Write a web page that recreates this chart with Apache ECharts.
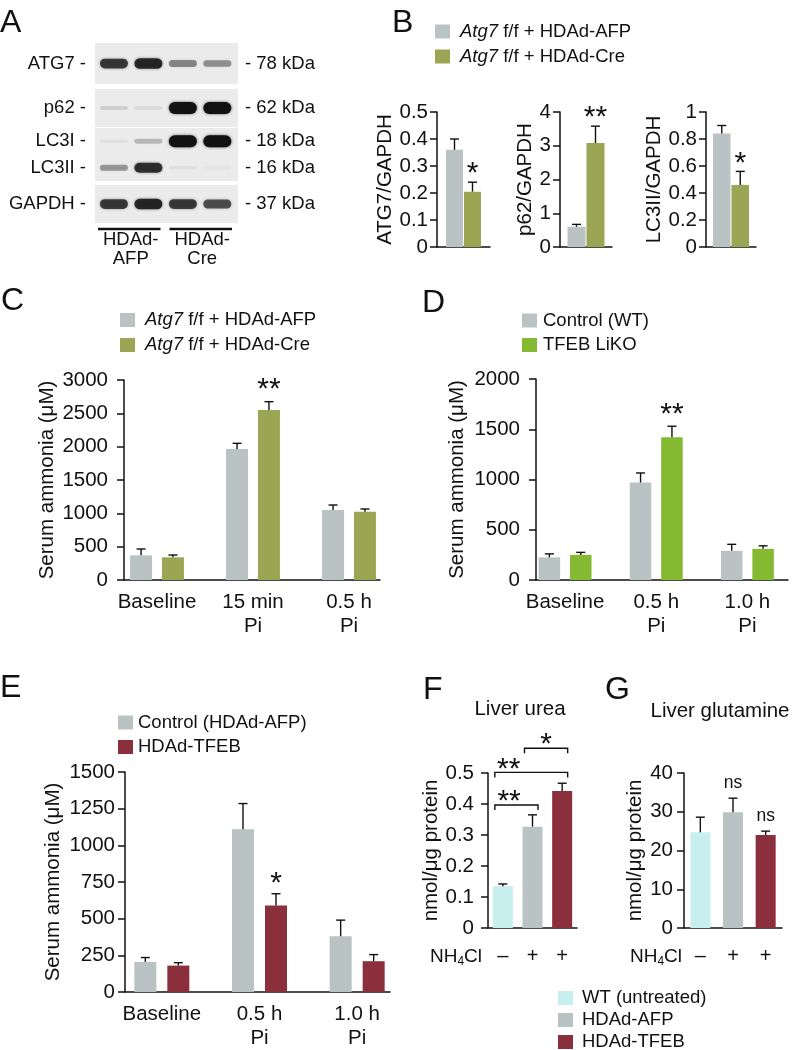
<!DOCTYPE html>
<html><head><meta charset="utf-8">
<script src="https://cdn.jsdelivr.net/npm/echarts@6/dist/echarts.min.js"></script>
<style>html,body{margin:0;padding:0;background:#fff}#c{width:793px;height:1050px}</style>
</head><body><div id="c"></div>
<script>
// ================= DATA =================
// Panel A (western blot band intensities, lanes 1-4)
const blotLeftLabels  = ['ATG7', 'p62', 'LC3I', 'LC3II', 'GAPDH'];
const blotRightLabels = ['78 kDa', '62 kDa', '18 kDa', '16 kDa', '37 kDa'];
const blotGroups = ['HDAd-\nAFP', 'HDAd-\nCre'];
const bandATG7  = [0.75, 0.85, 0.42, 0.38];
const bandP62   = [0.12, 0.08, 1.0, 1.0];
const bandLC3I  = [0.05, 0.22, 1.0, 1.0];
const bandLC3II = [0.35, 0.8, 0.05, 0.03];
const bandGAPDH = [0.75, 0.85, 0.75, 0.65];

// Panel B
const atgNames = ['Atg7 f/f + HDAd-AFP', 'Atg7 f/f + HDAd-Cre'];
const bAtg7Vals = [0.36, 0.205], bAtg7Err = [0.04, 0.035], bAtg7Sig = ['', '*'];
const bP62Vals  = [0.6, 3.08],   bP62Err  = [0.07, 0.5],   bP62Sig  = ['', '**'];
const bLc3Vals  = [0.84, 0.46],  bLc3Err  = [0.06, 0.10],  bLc3Sig  = ['', '*'];

// Panel C
const cCats = ['Baseline', '15 min\nPi', '0.5 h\nPi'];
const cAFP = [370, 1965, 1050], cAFPErr = [95, 85, 75];
const cCre = [340, 2550, 1025], cCreErr = [35, 125, 40], cCreSig = ['', '**', ''];

// Panel D
const dNames = ['Control (WT)', 'TFEB LiKO'];
const dCats = ['Baseline', '0.5 h\nPi', '1.0 h\nPi'];
const dWT = [225, 970, 290], dWTErr = [35, 95, 65];
const dKO = [250, 1420, 310], dKOErr = [25, 110, 30], dKOSig = ['', '**', ''];

// Panel E
const eNames = ['Control (HDAd-AFP)', 'HDAd-TFEB'];
const eCats = ['Baseline', '0.5 h\nPi', '1.0 h\nPi'];
const eAFP = [205, 1110, 380], eAFPErr = [30, 175, 110];
const eTFEB = [180, 590, 210], eTFEBErr = [20, 80, 45], eTFEBSig = ['', '*', ''];

// Panels F, G
const fgNames = ['WT (untreated)', 'HDAd-AFP', 'HDAd-TFEB'];
const nh4clSigns = ['\u2013', '+', '+'];
const urea = [0.135, 0.327, 0.442], ureaErr = [0.007, 0.038, 0.025];
const ureaPairs = [[0, 1], [0, 2], [1, 2]], ureaPairY = [0.397, 0.502, 0.58], ureaPairSig = ['**', '**', '*'];
const glut = [24.7, 29.9, 24.0], glutErr = [3.9, 3.6, 1.0], glutSig = ['', 'ns', 'ns'];

// ================= STYLE =================
const FF = "'Liberation Sans', Arial, Helvetica, sans-serif";
const TXT = '#111';
const FS = 18.5;   // legends, blot labels
const AF = 20.5;   // axis labels, axis names, subtitles
const GRAY = '#b9c3c3', OLIVE = '#9aa653', LIME = '#86b932', RED = '#8b2f3d', CYAN = '#c6efee';
const AX = {color: '#111', width: 1.5};
const SIGF = 30;

const grids = [], xAxes = [], yAxes = [], series = [], titles = [], legends = [], graphics = [];
const grid = o => (grids.push(Object.assign({show: false, containLabel: false}, o)), grids.length - 1);
const xa = o => (xAxes.push(o), xAxes.length - 1);
const ya = o => (yAxes.push(o), yAxes.length - 1);
const fmtNum = v => String(+(+v).toFixed(6));

function valueY(gi, max, interval, name, nameGap, margin) {
  return ya({gridIndex: gi, type: 'value', min: 0, max, interval, name, nameLocation: 'middle', nameGap,
    nameTextStyle: {fontSize: AF, color: TXT, fontFamily: FF},
    axisLine: {show: true, onZero: false, lineStyle: AX},
    axisTick: {show: true, length: 7, lineStyle: AX},
    axisLabel: {fontSize: AF, color: TXT, fontFamily: FF, margin, formatter: fmtNum},
    splitLine: {show: false}});
}

function errSeries(xi, yi, vals, errs, sigs, offset, sigFont, sigD) {
  series.push({type: 'custom', xAxisIndex: xi, yAxisIndex: yi, silent: true, z: 5,
    data: vals.map((v, i) => [i, v, errs[i]]),
    renderItem: (params, api) => {
      const i = params.dataIndex;
      const v = api.value(1), e = api.value(2);
      const p0 = api.coord([api.value(0), v]);
      const p1 = api.coord([api.value(0), v + e]);
      const x = p0[0] + offset;
      const ch = [
        {type: 'line', shape: {x1: x, y1: p0[1], x2: x, y2: p1[1]}, style: {stroke: '#111', lineWidth: 1.4}},
        {type: 'line', shape: {x1: x - 4.5, y1: p1[1], x2: x + 4.5, y2: p1[1]}, style: {stroke: '#111', lineWidth: 1.4}}
      ];
      const s = sigs ? sigs[i] : '';
      if (s) ch.push({type: 'text', x: x, y: p1[1] - sigD,
        style: {text: s, font: sigFont + 'px ' + FF, fill: '#111', align: 'center', verticalAlign: 'middle'}});
      return {type: 'group', children: ch};
    }});
}

// ================= PANEL A =================
const bandRows = [bandATG7, bandP62, bandLC3I, bandLC3II, bandGAPDH];
const strips = [
  {top: 43, h: 41, rows: [0]},
  {top: 89, h: 38, rows: [1]},
  {top: 128, h: 53, rows: [3, 2]},
  {top: 185, h: 38, rows: [4]}
];
strips.forEach(s => {
  const gi = grid({left: 95, top: s.top, width: 143, height: s.h, show: true, backgroundColor: '#ebebeb', borderWidth: 0});
  const xi = xa({gridIndex: gi, type: 'value', min: -0.55, max: 3.6, show: false});
  const lab = {fontSize: FS, color: TXT, fontFamily: FF};
  const yl = ya({gridIndex: gi, type: 'category', data: s.rows.map(r => blotLeftLabels[r]),
    axisLine: {show: false}, axisTick: {show: false},
    axisLabel: Object.assign({margin: 9, formatter: v => v + ' -'}, lab)});
  ya({gridIndex: gi, type: 'category', position: 'right', data: s.rows.map(r => blotRightLabels[r]),
    axisLine: {show: false}, axisTick: {show: false},
    axisLabel: Object.assign({margin: 7, formatter: v => '- ' + v}, lab)});
  const data = [];
  s.rows.forEach((r, ri) => bandRows[r].forEach((a, lane) => data.push([lane, ri, a])));
  series.push({type: 'custom', xAxisIndex: xi, yAxisIndex: yl, silent: true, data,
    renderItem: (p, api) => {
      const c = api.coord([api.value(0), api.value(1)]);
      const a = api.value(2);
      const h = 3 + 9 * a, w = 28;
      return {type: 'rect', shape: {x: c[0] - w / 2, y: c[1] - h / 2, width: w, height: h, r: h / 2},
        style: {fill: 'rgba(18,18,18,' + Math.min(1, a) + ')', shadowBlur: 3, shadowColor: 'rgba(0,0,0,' + (a * 0.6) + ')'}};
    }});
});
{
  const gg = grid({left: 95, top: 229, width: 143, height: 1});
  const gx = xa({gridIndex: gg, type: 'category', data: blotGroups, axisLine: {show: false}, axisTick: {show: false},
    axisLabel: {fontSize: FS, lineHeight: 19, margin: 0, color: TXT, fontFamily: FF, interval: 0}});
  const gy = ya({gridIndex: gg, type: 'value', min: 0, max: 1, show: false});
  series.push({type: 'custom', xAxisIndex: gx, yAxisIndex: gy, silent: true, data: blotGroups.map((g, i) => [i, 1]),
    renderItem: (p, api) => {
      const c = api.coord([api.value(0), 1]);
      const bw = api.size([1, 0])[0];
      return {type: 'line', shape: {x1: c[0] - bw / 2 + 3, y1: c[1], x2: c[0] + bw / 2 - 6, y2: c[1]}, style: {stroke: '#111', lineWidth: 2.6}};
    }});
}

// ================= PANEL B =================
function bPanel(left, width, max, interval, name, nameGap, vals, errs, sigs, barW) {
  const gi = grid({left, top: 112, width, height: 135});
  const xi = xa({gridIndex: gi, type: 'category', data: ['ratio'], axisLine: {show: true, lineStyle: AX}, axisTick: {show: false}, axisLabel: {show: false}});
  const yi = valueY(gi, max, interval, name, nameGap, 9);
  const gap = 1;
  vals.forEach((v, k) => series.push({type: 'bar', name: atgNames[k], xAxisIndex: xi, yAxisIndex: yi, data: [v],
    barWidth: barW, barGap: (gap / barW * 100) + '%', itemStyle: {color: [GRAY, OLIVE][k]}}));
  vals.forEach((v, k) => errSeries(xi, yi, [v], [errs[k]], [sigs[k]], (k === 0 ? -1 : 1) * (barW + gap) / 2, SIGF, 8));
}
bPanel(437, 53, 0.5, 0.1, 'ATG7/GAPDH', 39, bAtg7Vals, bAtg7Err, bAtg7Sig, 17);
bPanel(560, 52, 4, 1, 'p62/GAPDH', 24, bP62Vals, bP62Err, bP62Sig, 18);
bPanel(706, 50, 1, 0.2, 'LC3II/GAPDH', 35, bLc3Vals, bLc3Err, bLc3Sig, 17.5);

// ================= PANELS C, D, E =================
function groupPanel(o) {
  const ga = grid({left: o.axLeft, top: o.top, width: o.axWidth, height: o.h});
  xa({gridIndex: ga, type: 'value', min: 0, max: 1, axisLine: {show: true, onZero: false, lineStyle: AX},
    axisTick: {show: false}, axisLabel: {show: false}, splitLine: {show: false}});
  valueY(ga, o.max, o.interval, 'Serum ammonia (\u03bcM)', o.nameGap, o.margin);
  const gb = grid({left: o.barLeft, top: o.top, width: o.barsWidth, height: o.h});
  const xb = xa({gridIndex: gb, type: 'category', data: o.cats, axisLine: {show: false}, axisTick: {show: false},
    axisLabel: {fontSize: AF, lineHeight: 23.5, margin: 11, color: TXT, fontFamily: FF, interval: 0}});
  const yb = ya({gridIndex: gb, type: 'value', min: 0, max: o.max, show: false});
  const gapPx = o.barW * o.gap / 100;
  o.vals.forEach((vals, k) => series.push({type: 'bar', name: o.names[k], xAxisIndex: xb, yAxisIndex: yb, data: vals,
    barWidth: o.barW, barGap: o.gap + '%', itemStyle: {color: o.colors[k]}}));
  o.vals.forEach((vals, k) => errSeries(xb, yb, vals, o.errs[k], o.sigs[k], (k === 0 ? -1 : 1) * (o.barW + gapPx) / 2, SIGF, o.sigD));
}
groupPanel({axLeft: 124, axWidth: 256, barLeft: 109, barsWidth: 288, top: 380, h: 200, max: 3000, interval: 500,
  nameGap: 66, margin: 16, cats: cCats, names: atgNames, colors: [GRAY, OLIVE], vals: [cAFP, cCre],
  errs: [cAFPErr, cCreErr], sigs: [null, cCreSig], barW: 22, gap: 45, sigD: 11.5});
groupPanel({axLeft: 536, axWidth: 252, barLeft: 519.5, barsWidth: 288, top: 379, h: 201, max: 2000, interval: 500,
  nameGap: 68, margin: 16, cats: dCats, names: dNames, colors: [GRAY, LIME], vals: [dWT, dKO],
  errs: [dWTErr, dKOErr], sigs: [null, dKOSig], barW: 21.5, gap: 46, sigD: 11.5});
groupPanel({axLeft: 125, axWidth: 265, barLeft: 113, barsWidth: 293, top: 772, h: 220, max: 1500, interval: 250,
  nameGap: 61, margin: 10, cats: eCats, names: eNames, colors: [GRAY, RED], vals: [eAFP, eTFEB],
  errs: [eAFPErr, eTFEBErr], sigs: [null, eTFEBSig], barW: 22, gap: 50, sigD: 9.5});

// ================= PANELS F, G =================
function fgPanel(left, width, max, interval, nameGap, margin, vals, errs, sigs, sigFont, sigD) {
  const gi = grid({left, top: 773, width, height: 155});
  const xi = xa({gridIndex: gi, type: 'category', data: fgNames, axisLine: {show: true, lineStyle: AX}, axisTick: {show: false},
    axisLabel: {fontSize: 20, color: TXT, fontFamily: FF, margin: 18, interval: 0, formatter: (v, i) => nh4clSigns[i]}});
  const yi = valueY(gi, max, interval, 'nmol/\u03bcg protein', nameGap, margin);
  fgNames.forEach((n, k) => series.push({type: 'bar', name: n, xAxisIndex: xi, yAxisIndex: yi,
    data: vals.map((v, i) => i === k ? v : '-'), barWidth: 20, barGap: '-100%', itemStyle: {color: [CYAN, GRAY, RED][k]}}));
  errSeries(xi, yi, vals, errs, sigs, 0, sigFont, sigD);
  return {xi, yi};
}
const F = fgPanel(488, 89, 0.5, 0.1, 43, 14, urea, ureaErr, null, SIGF, 0);
fgPanel(684, 98, 40, 10, 35, 11, glut, glutErr, glutSig, 17.5, 14.6);

const bracketLabelAt = [0.33, 0.19, 0.5];
series.push({type: 'custom', xAxisIndex: F.xi, yAxisIndex: F.yi, silent: true, z: 6,
  data: ureaPairY.map((y, i) => [i, y]),
  renderItem: (params, api) => {
    const i = params.dataIndex, y = api.value(1);
    const a = api.coord([ureaPairs[i][0], y]), b = api.coord([ureaPairs[i][1], y]);
    const x0 = a[0] - 8, x1 = b[0] + 5.5, yy = a[1];
    return {type: 'group', children: [
      {type: 'polyline', shape: {points: [[x0, yy + 5], [x0, yy], [x1, yy], [x1, yy + 5]]}, style: {stroke: '#111', lineWidth: 1.4, fill: null}},
      {type: 'text', x: x0 + (x1 - x0) * bracketLabelAt[i], y: yy - 3,
        style: {text: ureaPairSig[i], font: SIGF + 'px ' + FF, fill: '#111', align: 'center', verticalAlign: 'middle'}}
    ]};
  }});

// ================= TITLES / LEGENDS / TEXT =================
const L = {fontSize: 32, fontWeight: 'normal', color: TXT, fontFamily: FF};
[['A', 0, 7], ['B', 392, 7], ['C', 1, 285], ['D', 422, 287], ['E', 0, 672], ['F', 423, 674], ['G', 605, 674]]
  .forEach(t => titles.push({text: t[0], left: t[1], top: t[2], padding: 0, textStyle: L}));
titles.push({text: 'Liver urea', left: 520, top: 699, textAlign: 'center', padding: 0, textStyle: {fontSize: AF, fontWeight: 'normal', color: TXT, fontFamily: FF}});
titles.push({text: 'Liver glutamine', left: 720, top: 701, textAlign: 'center', padding: 0, textStyle: {fontSize: AF, fontWeight: 'normal', color: TXT, fontFamily: FF}});

function legend(names, left, top, itemGap, textPad) {
  legends.push({data: names, left, top, height: 90, orient: 'vertical', itemWidth: 15, itemHeight: 14, itemGap, icon: 'rect',
    selectedMode: false, padding: 0,
    formatter: n => n.startsWith('Atg7') ? '{i|Atg7}{n|' + n.slice(4) + '}' : '{n|' + n + '}',
    textStyle: {fontSize: FS, lineHeight: 21, color: TXT, fontFamily: FF, padding: [0, 0, 0, textPad],
      rich: {i: {fontStyle: 'italic', fontSize: FS, fontFamily: FF, color: TXT}, n: {fontSize: FS, fontFamily: FF, color: TXT}}}});
}
legend(atgNames, 435, 21, 4, 5);
legend(atgNames, 120, 309.5, 4, 5);
legend(dNames, 522, 310, 3.5, 1);
legend(eNames, 118, 712, 3.5, 0);
legend(fgNames, 558, 987.5, 1, 4);

[[482, 957], [682, 957]].forEach(p => graphics.push({type: 'text', x: p[0], y: p[1],
  style: {text: 'NH{s|4}Cl', font: '19px ' + FF, fill: TXT, align: 'right', verticalAlign: 'middle',
    rich: {s: {fontSize: 12, fontFamily: FF, fill: TXT, padding: [10, 0, 0, 0]}}}}));

const chart = echarts.init(document.getElementById('c'));
chart.setOption({
  animation: false,
  textStyle: {fontFamily: FF},
  title: titles, legend: legends, grid: grids, xAxis: xAxes, yAxis: yAxes, series, graphic: graphics
});
</script></body></html>
